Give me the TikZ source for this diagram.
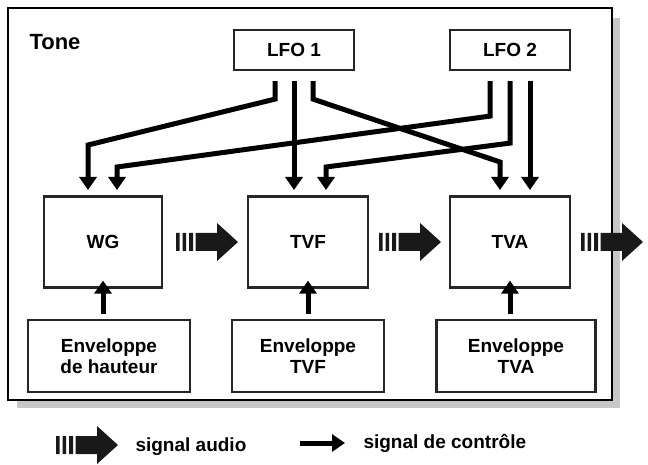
\documentclass[tikz,border=0pt]{standalone}
\usepackage{fontspec}
\setmainfont{Liberation Sans}
\usetikzlibrary{arrows.meta}
\begin{document}
\begin{tikzpicture}[x=1pt,y=-1pt,
  box/.style={draw=black!85,line width=2.2pt,fill=white,inner sep=0pt},
  lbl/.style={font=\bfseries\fontsize{19}{21}\selectfont,align=center},
  ctl/.style={line width=5pt,-{Triangle[width=17pt,length=13pt]}},
  pics/audio/.style={code={
    \fill[black!90] (0,-9) rectangle (3.5,9) (6.5,-9) rectangle (10,9) (13,-9) rectangle (17,9)
      (19.5,-9) -- (41,-9) -- (41,-19) -- (62,0) -- (41,19) -- (41,9) -- (19.5,9) -- cycle;}}]
\useasboundingbox (0,0) rectangle (648,465);
\fill[black!22] (17,18) rectangle (620,408);
\draw[line width=2.6pt,fill=white] (8,8) rectangle (612,400);
\node[anchor=west,font=\bfseries\fontsize{22}{24}\selectfont] (tone) at (26,42) {Tone};
\node[box,minimum width=120,minimum height=40,lbl] (lfo1) at (294,50) {LFO 1};
\node[box,minimum width=120,minimum height=40,lbl] (lfo2) at (510,50) {LFO 2};
\node[box,minimum width=118,minimum height=91,lbl] (wg) at (103,242) {WG};
\node[box,minimum width=120,minimum height=91,lbl] (tvf) at (308,242) {TVF};
\node[box,minimum width=120,minimum height=91,lbl] (tva) at (510,242) {TVA};
\node[box,minimum width=162,minimum height=72,lbl] (e1) at (109,356) {Enveloppe\\de hauteur};
\node[box,minimum width=152,minimum height=72,lbl] (e2) at (308,356) {Enveloppe\\TVF};
\node[box,minimum width=159,minimum height=72,lbl] (e3) at (516,356) {Enveloppe\\TVA};
% control arrows from LFOs
\draw[ctl] ([xshift=-19]lfo1.south) ++(0,10) -- ++(0,18) -- (88,145) -- (88,190);
\draw[ctl] ([xshift=-20]lfo2.south) ++(0,10) -- ++(0,35) -- (117,167) -- (117,190);
\draw[ctl] ([xshift=0]lfo1.south) ++(0,10) -- (294,190);
\draw[ctl] ([xshift=0]lfo2.south) ++(0,10) -- ++(0,62) -- (326,167) -- (326,190);
\draw[ctl] ([xshift=19]lfo1.south) ++(0,10) -- ++(0,18) -- (500,162) -- (500,190);
\draw[ctl] ([xshift=20]lfo2.south) ++(0,10) -- (530,190);
% envelopes
\draw[ctl] (e1.north -| wg.south) ++(0,-5) -- ([yshift=8]wg.south);
\draw[ctl] (e2.north) ++(0,-5) -- ([yshift=8]tvf.south);
\draw[ctl] (e3.north -| tva.south) ++(0,-5) -- ([yshift=8]tva.south);
% audio
\pic at (176,242) {audio};
\pic at (379,242) {audio};
\pic at (581,242) {audio};
% legend
\pic at (56,445) {audio};
\node[anchor=west,lbl] (la) at (132,447) {signal audio};
\coordinate (c1) at (300,443);
\coordinate (c2) at (345,443);
\draw[ctl] (c1) -- (c2);
\node[anchor=west,lbl] (lc) at (360,443) {signal de contrôle};
\end{tikzpicture}
\end{document}
